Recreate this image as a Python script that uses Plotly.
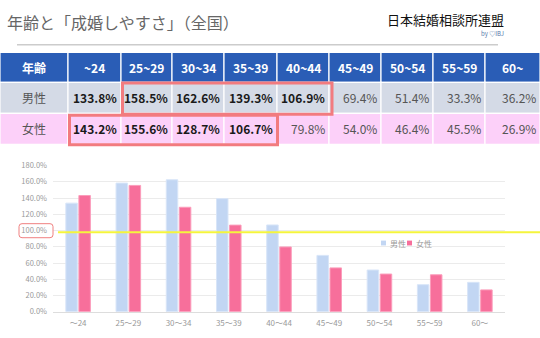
import plotly.graph_objects as go

# ---------------- data ----------------
ages_table = ["~24", "25~29", "30~34", "35~39", "40~44", "45~49", "50~54", "55~59", "60~"]
ages_axis = ["～24", "25～29", "30～34", "35～39", "40～44", "45～49", "50～54", "55～59", "60～"]
male = [133.8, 158.5, 162.6, 139.3, 106.9, 69.4, 51.4, 33.3, 36.2]
female = [143.2, 155.6, 128.7, 106.7, 79.8, 54.0, 46.4, 45.5, 26.9]
series_names = ["男性", "女性"]
header_label = "年齢"
title_text = "年齢と「成婚しやすさ」（全国）"
logo_text = "日本結婚相談所連盟"
logo_sub = "by ♡IBJ"
y_ticks = [0, 20, 40, 60, 80, 100, 120, 140, 160, 180]
ref_level = 98

W, H = 540, 338
FONT = "Noto Sans CJK JP"
MALE_C = "#c2d6f3"
FEMALE_C = "#f76f9b"
series_colors = [MALE_C, FEMALE_C]


def px(x):
    return x / W


def py(y):
    return 1 - y / H


fig = go.Figure()
fig.add_trace(go.Bar(x=ages_axis, y=male, name=series_names[0], showlegend=False,
                     marker=dict(color=MALE_C, line=dict(color="#d8e5f8", width=1))))
fig.add_trace(go.Bar(x=ages_axis, y=female, name=series_names[1], showlegend=False,
                     marker=dict(color=FEMALE_C, line=dict(color="#fb9dbb", width=1))))

shapes = []
annos = []

# title + logo
annos.append(dict(x=px(5), y=py(17), xref="paper", yref="paper", text=title_text,
                  showarrow=False, xanchor="left", yanchor="middle",
                  font=dict(family=FONT, size=16, color="#666666")))
annos.append(dict(x=px(506), y=py(14), xref="paper", yref="paper", text=logo_text,
                  showarrow=False, xanchor="right", yanchor="middle",
                  font=dict(family=FONT, size=13, color="#111111")))
annos.append(dict(x=px(506), y=py(28), xref="paper", yref="paper", text=logo_sub,
                  showarrow=False, xanchor="right", yanchor="middle",
                  font=dict(family=FONT, size=6, color="#5577aa")))
shapes.append(dict(type="line", xref="paper", yref="paper", x0=px(17), x1=px(498),
                   y0=py(40), y1=py(40), line=dict(color="#cccccc", width=1.5)))

# table geometry
col_edges = [0, 68, 121, 172, 224, 277, 329, 381, 433, 485, 540]
row_edges = [48, 79, 111, 143]
row_fill = ["#2a5db6", "#d4dae6", "#fcd0f9"]

for r in range(3):
    for c in range(10):
        shapes.append(dict(type="rect", xref="paper", yref="paper",
                           x0=px(col_edges[c]), x1=px(col_edges[c + 1]),
                           y0=py(row_edges[r]), y1=py(row_edges[r + 1]),
                           fillcolor=row_fill[r], line=dict(color="white", width=1.2),
                           layer="below"))

# header texts
hdr = [header_label] + ages_table
for c, t in enumerate(hdr):
    annos.append(dict(x=px((col_edges[c] + col_edges[c + 1]) / 2), y=py((row_edges[0] + row_edges[1]) / 2),
                      xref="paper", yref="paper", text="<b>%s</b>" % t, showarrow=False,
                      xanchor="center", yanchor="middle",
                      font=dict(family=FONT, size=12, color="white")))

for r, (lab, vals) in enumerate([(series_names[0], male), (series_names[1], female)]):
    yc = py((row_edges[r + 1] + row_edges[r + 2]) / 2)
    annos.append(dict(x=px(34), y=yc, xref="paper", yref="paper", text=lab, showarrow=False,
                      xanchor="center", yanchor="middle",
                      font=dict(family=FONT, size=12, color="#555555")))
    for c, v in enumerate(vals):
        txt = "%.1f%%" % v
        if v > 100:
            txt = "<b>%s</b>" % txt
            col = "#1a1a1a"
        else:
            col = "#555555"
        annos.append(dict(x=px(col_edges[c + 2] - 2), y=yc, xref="paper", yref="paper", text=txt,
                          showarrow=False, xanchor="right", yanchor="middle",
                          font=dict(family=FONT, size=12, color=col)))

# red highlight boxes
RED = "#f27b7f"
shapes.append(dict(type="rect", xref="paper", yref="paper", x0=px(122.5), x1=px(332),
                   y0=py(79.5), y1=py(112), line=dict(color=RED, width=3)))
shapes.append(dict(type="rect", xref="paper", yref="paper", x0=px(69.5), x1=px(277.5),
                   y0=py(113), y1=py(143.5), line=dict(color=RED, width=3)))

# reference line (yellow)
shapes.append(dict(type="line", xref="paper", yref="y", x0=px(58), x1=1,
                   y0=ref_level, y1=ref_level, line=dict(color="#f5f53c", width=2), layer="above"))

# rounded box around 100% label
x0, x1, y0, y1, rr = 19, 53, 225, 239.5, 3
path = ("M {a},{b} L {c},{b} Q {d},{b} {d},{e} L {d},{f} Q {d},{g} {c},{g} "
        "L {a},{g} Q {h},{g} {h},{f} L {h},{e} Q {h},{b} {a},{b} Z").format(
    a=px(x0 + rr), b=py(y0), c=px(x1 - rr), d=px(x1), e=py(y0 + rr), f=py(y1 - rr),
    g=py(y1), h=px(x0))
shapes.append(dict(type="path", xref="paper", yref="paper", path=path,
                   line=dict(color="#f08080", width=1)))

# compact legend
leg_x = [381, 407]
for name, colr, lx in zip(series_names, series_colors, leg_x):
    shapes.append(dict(type="rect", xref="paper", yref="paper", x0=px(lx), x1=px(lx + 5),
                       y0=py(242.5), y1=py(247.5), fillcolor=colr, line=dict(width=0)))
    annos.append(dict(x=px(lx + 7), y=py(245), xref="paper", yref="paper", text=name,
                      showarrow=False, xanchor="left", yanchor="middle",
                      font=dict(family=FONT, size=8, color="#999999")))

fig.update_layout(
    width=W, height=H, autosize=False,
    margin=dict(l=0, r=0, t=0, b=0),
    paper_bgcolor="white", plot_bgcolor="white",
    font=dict(family=FONT, color="#999999"),
    barmode="group", bargap=0.48, bargroupgap=0.12,
    shapes=shapes, annotations=annos,
    showlegend=False,
    xaxis=dict(domain=[px(53), px(505)], showgrid=False, showline=True, linecolor="#dddddd",
               linewidth=1, ticks="", tickfont=dict(family=FONT, size=8, color="#999999"),
               ticklabelstandoff=4, fixedrange=True),
    yaxis=dict(domain=[py(316), py(165)], range=[0, 180], tickvals=y_ticks,
               ticktext=["%.1f%%" % v for v in y_ticks],
               showgrid=True, gridcolor="#ebebeb", gridwidth=1, zeroline=False,
               ticks="", tickfont=dict(family=FONT, size=7.5, color="#999999"),
               ticklabelstandoff=5, fixedrange=True),
)

fig.write_html("out.html")
